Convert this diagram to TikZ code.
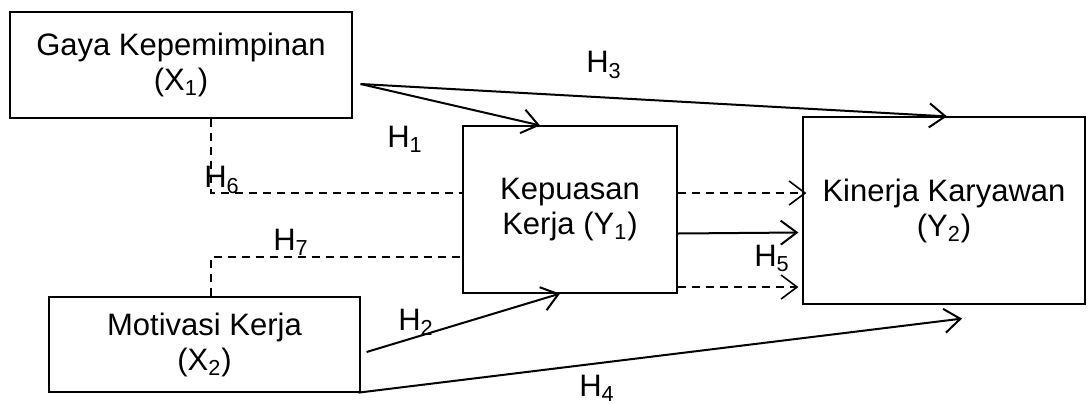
\documentclass[tikz,border=0pt]{standalone}
\usepackage{fontspec}
\setmainfont{Liberation Sans}
\usetikzlibrary{arrows.meta}

\begin{document}
\begin{tikzpicture}[x=0.5pt,y=-0.5pt]
	\tikzstyle{var} = [draw, line width=0.6pt, align=center, inner sep=0pt, font=\fontsize{15.5}{17.5}\selectfont]
	\tikzstyle{hyp} = [inner sep=0pt, font=\fontsize{15.5}{17.5}\selectfont]
	\tikzset{edge/.style = {-{Straight Barb[length=8pt,width=12pt]}, line width=1pt}}
	\tikzset{link/.style = {dash pattern=on 4pt off 3pt, line width=0.8pt}}
	\tikzset{dashedge/.style = {edge, link}}

	\useasboundingbox (0,0) rectangle (1088,403);

	\node[var, minimum width=171pt, minimum height=53pt](x1) at (181,65) {Gaya Kepemimpinan\\(X\textsubscript{1})};
	\node[var, minimum width=155.5pt, minimum height=47.5pt](x2) at (204.5,344.5) {Motivasi Kerja\\(X\textsubscript{2})};
	\node[var, minimum width=107pt, minimum height=83.5pt](y1) at (570,209.5) {Kepuasan\\Kerja (Y\textsubscript{1})};
	\node[var, minimum width=141pt, minimum height=93.5pt](y2) at (944,210.5) {Kinerja Karyawan\\(Y\textsubscript{2})};

	\node[hyp](h1) at (405,139) {H\textsubscript{1}};
	\node[hyp](h2) at (416,322) {H\textsubscript{2}};
	\node[hyp](h3) at (604,65) {H\textsubscript{3}};
	\node[hyp](h4) at (597,388) {H\textsubscript{4}};
	\node[hyp](h5) at (772,258) {H\textsubscript{5}};
	\node[hyp](h6) at (222,180) {H\textsubscript{6}};
	\node[hyp](h7) at (291,242) {H\textsubscript{7}};

	% direct paths
	\draw[edge] ([shift={(4pt,-9.5pt)}]x1.east) -- ([xshift=-15pt]y1.north);
	\draw[edge] ([shift={(4pt,-9.5pt)}]x1.east) -- ([xshift=1.5pt]y2.north);
	\draw[edge] ([shift={(3pt,-3.75pt)}]x2.east) -- ([xshift=-5pt]y1.south);
	\draw[edge] ([xshift=-1pt]x2.south east) -- ([shift={(9pt,-7pt)}]y2.south);
	\draw[edge] ([yshift=-12pt]y1.east) -- ([shift={(-2pt,-11pt)}]y2.west);

	% mediated paths
	\draw[link] ([xshift=15pt]x1.south) |- ([yshift=8.25pt]y1.west);
	\draw[link] ([xshift=3.25pt]x2.north) |- ([yshift=-23.75pt]y1.west);
	\draw[dashedge] ([yshift=8.25pt]y1.east) -- ([shift={(2pt,8.75pt)}]y2.west);
	\draw[dashedge] ([yshift=-38.75pt]y1.east) -- ([shift={(-2pt,-38.25pt)}]y2.west);
\end{tikzpicture}
\end{document}
